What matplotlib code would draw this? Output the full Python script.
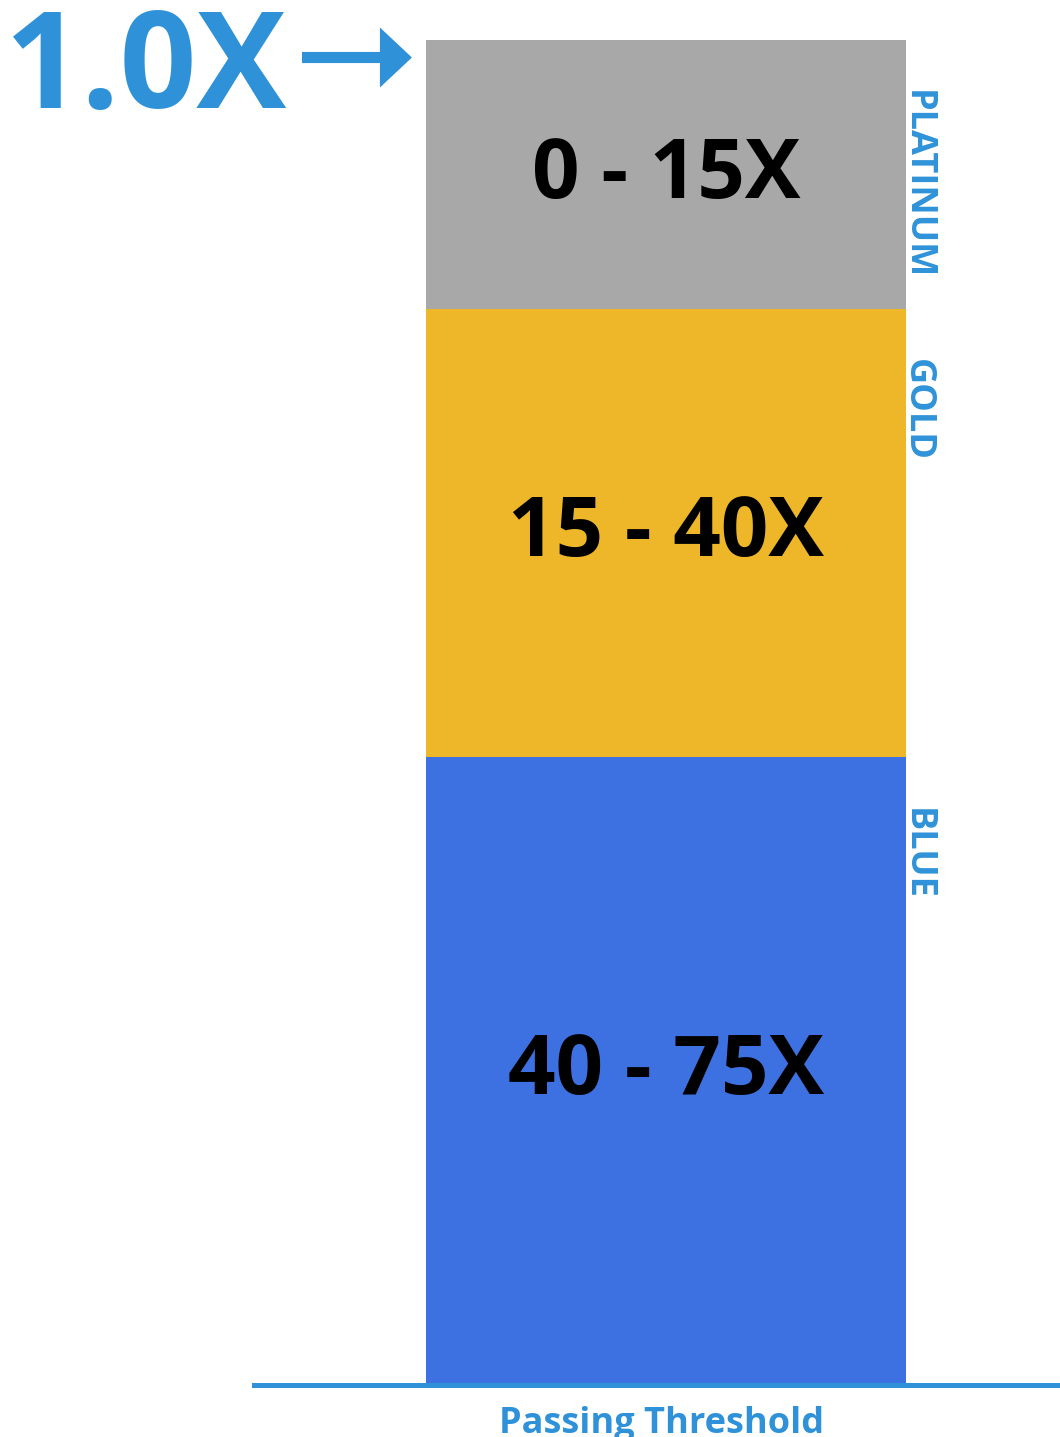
import matplotlib.pyplot as plt

plt.rcParams["font.family"] = ["Open Sans", "DejaVu Sans"]

# tiers, top to bottom (range of the multiplier)
tiers = ["PLATINUM", "GOLD", "BLUE"]
starts = [0, 15, 40]
ends = [15, 40, 75]
tier_colors = ["#a8a8a8", "#edb729", "#3d70e0"]
marker_value = 1.0
axis_label = "Passing Threshold"

ACCENT = "#2f92d8"

fig = plt.figure(figsize=(10.6, 14.37), dpi=100)
ax = fig.add_axes([0, 52 / 1437, 1, 1345 / 1437])
ax.set_xlim(-426 / 480, 634 / 480)
ax.set_ylim(max(ends), 0)
ax.axis("off")

heights = [e - s for s, e in zip(starts, ends)]
ax.bar(0.5, heights, bottom=starts, width=1.0, color=tier_colors, linewidth=0)

for name, s, e in zip(tiers, starts, ends):
    mid = (s + e) / 2
    ax.text(0.5, mid + 1.3, f"{s} - {e:g}X", ha="center", va="baseline",
            fontsize=60, fontweight="bold", color="black")
    ax.text(1.023, s + 2.8, name, rotation=-90, ha="center", va="top",
            fontsize=26, fontweight="bold", color=ACCENT, clip_on=False)

# baseline
ax.axhline(max(ends), xmin=254 / 1060, xmax=1.0, color=ACCENT, linewidth=3.6,
           clip_on=False)
ax.text(0.49, max(ends) + 1.15, axis_label, ha="center", va="top",
        fontsize=26, fontweight="bold", color=ACCENT, clip_on=False)

# 1.0X marker with arrow
ax.text(-0.88, 3.79, f"{marker_value:.1f}X", ha="left", va="baseline",
        fontsize=97, fontweight="bold", color=ACCENT, clip_on=False)
ax.arrow(-0.2583, 0.976, 0.229, 0, width=0.62, head_width=3.35,
         head_length=0.0667, length_includes_head=True, color=ACCENT,
         linewidth=0, clip_on=False)

fig.savefig("out.png", dpi=100)
plt.close(fig)
